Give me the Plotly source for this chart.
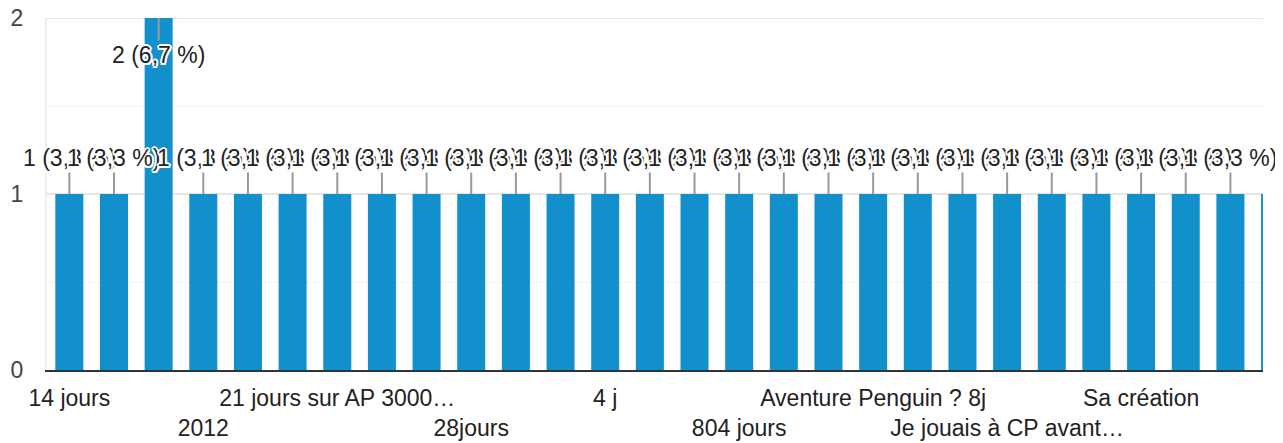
import plotly.graph_objects as go

# Category labels (only every third one is legible in the reference; others unknown)
labels = ["14 jours", "", "", "2012", "", "", "21 jours sur AP 3000…", "", "",
          "28jours", "", "", "4 j", "", "", "804 jours", "", "",
          "Aventure Penguin ? 8j", "", "", "Je jouais à CP avant…", "", "",
          "Sa création", "", "", "depui…", ""]
counts = [1, 1, 2, 1, 1, 1, 1, 1, 1, 1, 1, 1, 1, 1, 1, 1, 1, 1, 1, 1,
          1, 1, 1, 1, 1, 1, 1, 1, 1]
total = sum(counts)

x = list(range(len(counts)))
FONT = "Liberation Sans, Arial, sans-serif"
BLUE = "#1190cb"
HALO = ("-1.5px -1.5px 0 #fff, 1.5px -1.5px 0 #fff, -1.5px 1.5px 0 #fff, "
        "1.5px 1.5px 0 #fff, 0 2px 0 #fff, 0 -2px 0 #fff, 2px 0 0 #fff, -2px 0 0 #fff")
FS = 23

fig = go.Figure()
fig.add_trace(go.Bar(x=x, y=counts, marker=dict(color=BLUE, line=dict(width=0)),
                     hoverinfo="skip"))

ymax = 2
annotations = []
for i, c in enumerate(counts):
    pct = f"{c / total * 100:.1f}".replace(".", ",")
    txt = f"{c} ({pct} %)"
    at_top = c >= ymax
    annotations.append(dict(
        x=i, y=c, xref="x", yref="y", text=txt,
        showarrow=True, arrowhead=0, arrowwidth=2, arrowcolor="#999999",
        ax=0, ay=37 if at_top else -36, standoff=0,
        font=dict(family=FONT, size=FS, color="#222222", shadow=HALO),
    ))

tickvals = [i for i, l in enumerate(labels) if l]
ticktext = []
for k, i in enumerate(tickvals):
    ticktext.append(labels[i] if k % 2 == 0 else "<br>" + labels[i])

# top grid line of the chart area (at the axis maximum)
fig.add_shape(type="line", xref="paper", x0=0, x1=1, yref="y", y0=ymax, y1=ymax,
              line=dict(color="#e6e6e6", width=2), layer="below")

fig.update_layout(
    width=1275, height=435,
    margin=dict(l=39, r=20, t=10, b=73, autoexpand=False),
    paper_bgcolor="white", plot_bgcolor="white",
    bargap=0.373, showlegend=False,
    annotations=annotations,
    font=dict(family=FONT, size=FS, color="#333333"),
    xaxis=dict(range=[-0.5, 26.73], tickvals=tickvals, ticktext=ticktext,
               tickangle=0, automargin=False,
               showgrid=False, zeroline=False, showline=True,
               linecolor="#333333", linewidth=2, ticks="",
               tickfont=dict(family=FONT, size=FS, color="#222222"),
               ticklabelstandoff=6, fixedrange=True),
    yaxis=dict(range=[0, ymax], tickvals=[0, 1, 2], showgrid=True, automargin=False,
               gridcolor="#e6e6e6", gridwidth=2, zeroline=False,
               showline=True, linecolor="#eeeeee", linewidth=2,
               minor=dict(dtick=0.5, showgrid=True, gridcolor="#f3f3f3", gridwidth=1),
               tickfont=dict(family=FONT, size=FS, color="#444444"),
               ticklabelstandoff=17, ticklabeloverflow="allow", fixedrange=True),
)

fig.write_html("out.html")
